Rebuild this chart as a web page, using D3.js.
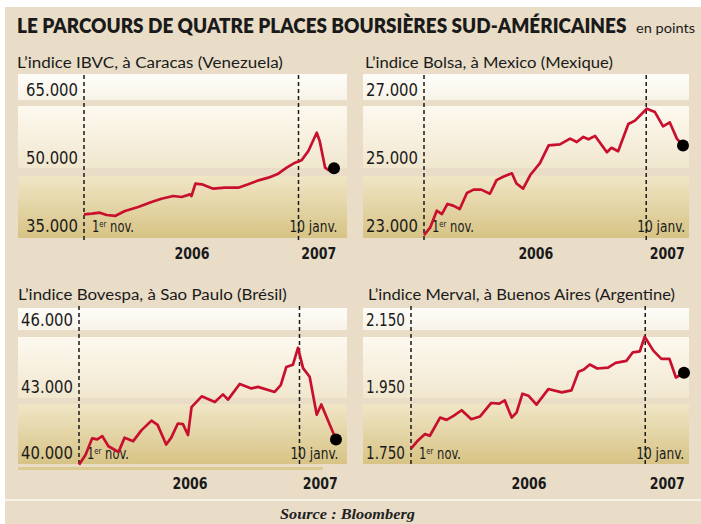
<!DOCTYPE html>
<html>
<head>
<meta charset="utf-8">
<script src="https://cdn.jsdelivr.net/npm/d3@7"></script>
<style>
body { margin: 0; background: #fff; }
svg { display: block; }
</style>
</head>
<body>
<svg id="chart" width="701" height="524"></svg>
<script>
// data
var ibvcDates = ["2005-11-01","2005-11-17","2005-12-03","2005-12-17","2006-01-03","2006-01-23","2006-02-19","2006-03-18","2006-04-07","2006-05-01","2006-05-18","2006-06-04","2006-06-07","2006-06-15","2006-06-28","2006-07-21","2006-08-14","2006-09-10","2006-09-30","2006-10-21","2006-11-10","2006-11-30","2006-12-17","2007-01-03","2007-01-16","2007-01-30","2007-02-16","2007-02-22","2007-03-05","2007-03-12","2007-03-23"];
var ibvcValues = [37350,37500,37720,37200,37000,38090,38970,40070,40800,41400,41170,41760,41400,44110,43970,43010,43230,43230,43970,44850,45440,46320,47640,48740,49260,51320,55360,53520,47640,47130,47500];

var bolsaDates = ["2005-11-01","2005-11-13","2005-11-26","2005-12-06","2005-12-17","2005-12-28","2006-01-10","2006-01-24","2006-02-06","2006-02-21","2006-03-10","2006-03-23","2006-04-05","2006-04-22","2006-05-01","2006-05-14","2006-05-28","2006-06-16","2006-07-03","2006-07-25","2006-08-14","2006-08-27","2006-09-09","2006-09-19","2006-10-02","2006-10-25","2006-11-03","2006-11-16","2006-12-06","2006-12-19","2007-01-11","2007-01-27","2007-02-12","2007-02-25","2007-03-11","2007-03-23"];
var bolsaValues = [22700,22920,23420,23320,23620,23570,23470,23940,24040,24040,23920,24320,24420,24520,24220,24070,24470,24820,25340,25370,25540,25440,25590,25520,25620,25140,25270,25170,25970,26070,26420,26320,25900,26020,25540,25340];

var bovespaDates = ["2005-11-01","2005-11-14","2005-11-27","2005-12-07","2005-12-17","2005-12-29","2006-01-18","2006-01-30","2006-02-16","2006-03-04","2006-03-24","2006-04-05","2006-04-22","2006-05-02","2006-05-15","2006-05-25","2006-06-04","2006-06-11","2006-07-01","2006-07-27","2006-08-12","2006-08-22","2006-09-14","2006-10-07","2006-10-20","2006-11-22","2006-12-04","2006-12-15","2006-12-28","2007-01-07","2007-01-17","2007-01-30","2007-02-13","2007-02-22","2007-03-23"];
var bovespaValues = [39420,39880,40620,40570,40720,40260,40000,40650,40490,40980,41420,41230,40340,40650,41290,41260,40770,42030,42520,42260,42610,42370,43080,42880,42950,42720,43030,43850,43950,44720,43800,43410,41690,42150,40570];

var mervalDates = ["2005-11-01","2005-11-14","2005-11-27","2005-12-06","2005-12-25","2006-01-06","2006-01-19","2006-02-03","2006-02-21","2006-03-09","2006-03-30","2006-04-14","2006-04-24","2006-05-07","2006-05-16","2006-05-27","2006-06-07","2006-06-22","2006-07-14","2006-08-08","2006-08-26","2006-09-08","2006-09-18","2006-09-29","2006-10-13","2006-11-02","2006-11-16","2006-12-06","2006-12-18","2006-12-31","2007-01-09","2007-01-25","2007-02-09","2007-02-24","2007-03-08","2007-03-23"];
var mervalValues = [1760,1785,1804,1799,1854,1847,1859,1876,1849,1857,1898,1896,1906,1854,1869,1926,1920,1893,1940,1930,1936,1992,1999,2014,2002,2005,2019,2025,2051,2054,2098,2056,2031,2031,1975,1989];

var ibvcTicks = [35000, 50000, 65000];
var bolsaTicks = [23000, 25000, 27000];
var bovespaTicks = [40000, 43000, 46000];
var mervalTicks = [1750, 1950, 2150];

var panelTitles = ["L\u2019indice IBVC, à Caracas (Venezuela)", "L\u2019indice Bolsa, à Mexico (Mexique)",
                   "L\u2019indice Bovespa, à Sao Paulo (Brésil)", "L\u2019indice Merval, à Buenos Aires (Argentine)"];
var periodDates = ["2005-11-01", "2007-03-23"];
var markerDates = ["2005-11-01", "2007-01-10"];
var yearLabels = ["2006", "2007"];
var yearDates = ["2006-06-08", "2007-02-20"];

var mainTitle = "LE PARCOURS DE QUATRE PLACES BOURSIÈRES SUD-AMÉRICAINES";
var unitLabel = "en points";
var sourceLabel = "Source : Bloomberg";

var parse = d3.timeParse("%Y-%m-%d");
var fr = d3.formatLocale({decimal: ",", thousands: ".", grouping: [3], currency: ["", " €"]});
var format = fr.format(",");

var svg = d3.select("#chart");
var W = 701, H = 524;
var bg = "#e9ddc8", red = "#c8102e";
var narrow = "'Liberation Sans Narrow','DejaVu Sans Condensed','Lato',sans-serif";
var sans = "'Lato','Noto Sans',sans-serif";

// squeeze a text horizontally so it spans w pixels (the original uses a condensed face)
function fit(sel, w) {
  sel.each(function(d) {
    var t = d3.select(this);
    var n = this.getComputedTextLength();
    var ww = typeof w === "function" ? w(d) : w;
    var x = +t.attr("x") || 0, y = +t.attr("y") || 0;
    t.attr("x", 0).attr("y", 0)
      .attr("transform", "translate(" + x + "," + y + ") scale(" + (ww / n) + ",1)");
  });
}

// layout for the two rows and four panels
var rows = [
  {titleY: 68, yTop: 89, yBot: 225, bands: [[74,100],[106,168],[176,238]], dashTop: 75, dashBot: 240, yearY: 259},
  {titleY: 300, yTop: 319.5, yBot: 452, bands: [[308,330],[337,398],[404,464]], dashTop: 306, dashBot: 467, yearY: 489}
];
var panels = [
  {title: panelTitles[0], dates: ibvcDates, values: ibvcValues, ticks: ibvcTicks, row: 0, x0: 84, x1: 334, left: 18, right: 347, tx: 17, tw: 266},
  {title: panelTitles[1], dates: bolsaDates, values: bolsaValues, ticks: bolsaTicks, row: 0, x0: 424, x1: 683, left: 363, right: 689, tx: 365, tw: 248},
  {title: panelTitles[2], dates: bovespaDates, values: bovespaValues, ticks: bovespaTicks, row: 1, x0: 79, x1: 336, left: 18, right: 347, tx: 18, tw: 269, strip: true},
  {title: panelTitles[3], dates: mervalDates, values: mervalValues, ticks: mervalTicks, row: 1, x0: 411, x1: 684, left: 363, right: 689, tx: 368, tw: 307}
];

// gradients for the bands
var defs = svg.append("defs");
function grad(id, c0, c1) {
  var g = defs.append("linearGradient").attr("id", id)
    .attr("x1", 0).attr("y1", 0).attr("x2", 0).attr("y2", 1);
  g.append("stop").attr("offset", "0%").attr("stop-color", c0);
  g.append("stop").attr("offset", "100%").attr("stop-color", c1);
}
grad("band0", "#fefdf9", "#f8f3e8");
grad("band1", "#fdf9ef", "#f1e7cf");
grad("band2", "#f0e6c6", "#d7c385");

// frame
svg.append("rect").attr("width", W).attr("height", H).attr("fill", "#fff");
svg.append("rect").attr("x", 5).attr("y", 7).attr("width", W - 5).attr("height", H - 7).attr("fill", bg);
svg.append("rect").attr("x", 5).attr("y", 499).attr("width", W - 5).attr("height", 2).attr("fill", "#f8f3ea");

// titles
svg.append("text").attr("x", 17).attr("y", 33)
  .style("font-family", sans).style("font-weight", 800).style("font-size", "20px").attr("fill", "#1a1a1a")
  .text(mainTitle)
  .call(fit, 610);
svg.append("text").attr("x", 636).attr("y", 33)
  .style("font-family", sans).style("font-size", "13px").attr("fill", "#1a1a1a")
  .text(unitLabel)
  .call(fit, 59);
svg.append("text").attr("x", 280).attr("y", 519)
  .style("font-family", "'Liberation Serif','DejaVu Serif',serif").style("font-style", "italic").style("font-weight", "bold")
  .style("font-size", "14px").attr("fill", "#222")
  .text(sourceLabel)
  .call(fit, 135);

// width of a tick label, figures are proportional in the original
function tickWidth(s) {
  return d3.sum(s.split(""), function(c) { return c === "." ? 4 : (c === "1" ? 6.2 : 9.6); });
}

panels.forEach(function(p) {
  var r = rows[p.row];
  var g = svg.append("g");

  var x = d3.scaleTime()
    .domain(periodDates.map(parse))
    .range([p.x0, p.x1]);
  var y = d3.scaleLinear()
    .domain([p.ticks[0], p.ticks[2]])
    .range([r.yBot, r.yTop]);

  g.selectAll("rect.band")
    .data(r.bands)
    .enter().append("rect")
    .attr("class", "band")
    .attr("x", p.left)
    .attr("width", p.right - p.left)
    .attr("y", function(d) { return d[0]; })
    .attr("height", function(d) { return d[1] - d[0]; })
    .attr("fill", function(d, i) { return "url(#band" + i + ")"; });

  if (p.strip) {
    g.append("rect").attr("x", p.left).attr("width", 305).attr("y", 467).attr("height", 3).attr("fill", "#dccb90");
  }

  g.append("text").attr("x", p.tx).attr("y", r.titleY)
    .style("font-family", sans).style("font-size", "16px").attr("fill", "#1a1a1a")
    .text(p.title)
    .call(fit, p.tw);

  // y axis labels
  var axis = g.append("g")
    .attr("transform", "translate(" + p.x0 + ",0)")
    .call(d3.axisLeft(y).tickValues(p.ticks).tickFormat(format).tickSize(0).tickPadding(6));
  axis.select(".domain").remove();
  axis.selectAll("text")
    .attr("dy", "0.36em")
    .style("font-family", narrow).style("font-size", "18px").attr("fill", "#1a1a1a")
    .call(fit, function(d) { return tickWidth(format(d)); });

  // dashed markers
  g.selectAll("line.marker")
    .data(markerDates.map(parse))
    .enter().append("line")
    .attr("class", "marker")
    .attr("x1", x).attr("x2", x)
    .attr("y1", r.dashTop).attr("y2", r.dashBot)
    .attr("stroke", "#1a1a1a").attr("stroke-width", 1.5).attr("stroke-dasharray", "4,3");

  var labY = y(p.ticks[0]) + 7;
  var nov = g.append("text")
    .attr("x", x(parse(markerDates[0])) + 8).attr("y", labY)
    .style("font-family", narrow).style("font-size", "15px").attr("fill", "#1a1a1a");
  nov.append("tspan").text("1");
  nov.append("tspan").attr("dy", -5).style("font-size", "9px").text("er");
  nov.append("tspan").attr("dy", 5).text(" nov.");
  nov.call(fit, 42);
  g.append("text")
    .attr("x", x(parse(markerDates[1])) - 9).attr("y", labY)
    .style("font-family", narrow).style("font-size", "15px").attr("fill", "#1a1a1a")
    .text("10 janv.")
    .call(fit, 48);

  // years
  g.selectAll("text.year")
    .data(yearLabels)
    .enter().append("text")
    .attr("class", "year")
    .attr("x", function(d, i) { return x(parse(yearDates[i])) - 17.5; })
    .attr("y", r.yearY)
    .style("font-family", narrow).style("font-weight", "bold").style("font-size", "16px").attr("fill", "#1a1a1a")
    .text(function(d) { return d; })
    .call(fit, 35);

  // series
  var data = p.dates.map(function(d, i) { return {date: parse(d), value: p.values[i]}; });
  var line = d3.line()
    .x(function(d) { return x(d.date); })
    .y(function(d) { return y(d.value); });
  g.append("path")
    .datum(data)
    .attr("d", line)
    .attr("fill", "none")
    .attr("stroke", red)
    .attr("stroke-width", 2.7)
    .attr("stroke-linejoin", "round");

  var last = data[data.length - 1];
  g.append("circle")
    .attr("cx", x(last.date)).attr("cy", y(last.value))
    .attr("r", 6).attr("fill", "#000");
});
</script>
</body>
</html>
